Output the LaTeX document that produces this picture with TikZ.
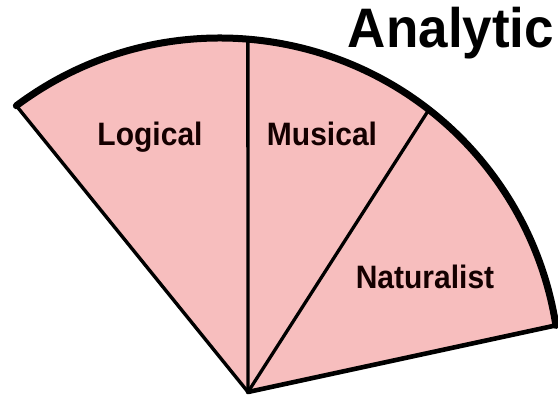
\documentclass[tikz,border=0pt]{standalone}
\usepackage{fontspec}
\setmainfont{Liberation Sans}
\usetikzlibrary{calc}
\definecolor{petal}{RGB}{247,190,190}
\tikzset{
  lbl/.style={font=\bfseries\fontsize{30}{30}\selectfont, anchor=base, inner sep=0pt, text=black!92!red, yscale=1.08},
  divider/.style={line width=3.3pt, line cap=round},
}
\begin{document}
\begin{tikzpicture}[x=1pt,y=1pt]
\useasboundingbox (0,0) rectangle (558,396);
% geometry
\coordinate (O) at (248,4);
\coordinate (Cc) at (220,18);
\coordinate (A) at ($(Cc)+(126.8:340)$);
\coordinate (B) at ($(Cc)+(85.3:340)$);
\coordinate (D) at ($(Cc)+(52.1:340)$);
\coordinate (C) at ($(Cc)+(8.9:340)$);
% fill
\fill[petal] (O) -- (A) arc[start angle=126.8, end angle=8.9, radius=340] -- cycle;
% edges
\draw[line width=3.4pt, line cap=round] (A) -- (O);
\draw[line width=4.6pt, line cap=round] (O) -- (C);
\draw[line width=7pt, line cap=round] (A) arc[start angle=126.8, end angle=8.9, radius=340];
\draw[divider] (O) -- (B);
\draw[divider] (O) -- (D);
% labels
\node[lbl] (logical) at (150,250) {Logical};
\node[lbl] (musical) at (322,250) {Musical};
\node[lbl] (natural) at (425,107) {Naturalist};
\node[font=\bfseries\fontsize{53}{53}\selectfont, anchor=base, inner sep=0pt, yscale=1.05] (analytic) at (451,348) {Analytic};
\end{tikzpicture}
\end{document}
